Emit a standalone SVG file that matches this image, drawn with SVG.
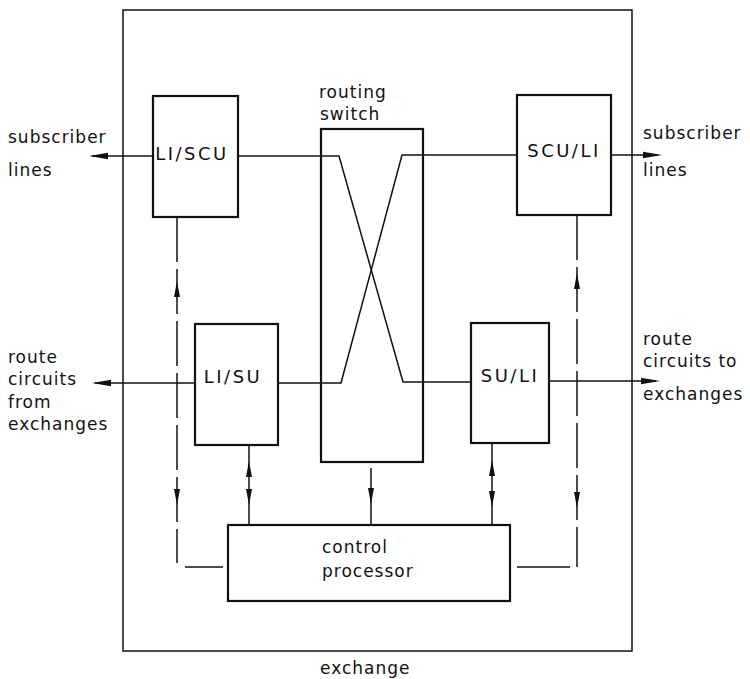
<svg xmlns="http://www.w3.org/2000/svg" width="750" height="679" viewBox="0 0 750 679">
<style>
  text { font-family: "DejaVu Sans", "Liberation Sans", sans-serif; font-size: 17px; letter-spacing: 1px; fill: #111; }
  .lbl { font-size: 18px; letter-spacing: 2.5px; text-anchor: middle; }
  .box { fill: none; stroke: #111; stroke-width: 2.2; }
  .frame { fill: none; stroke: #111; stroke-width: 1.5; }
  .ln { fill: none; stroke: #111; stroke-width: 1.5; }
  .dash { fill: none; stroke: #111; stroke-width: 1.5; stroke-dasharray: 45 7; }
  .ah { fill: #111; stroke: none; }
</style>
<defs>
  <path id="ah" d="M0,0 L-3,16 L3,16 Z"/>
  <path id="ahh" d="M0,0 L-3.2,19 L3.2,19 Z"/>
</defs>
<rect width="750" height="679" fill="#fff"/>

<g id="exchange">
  <rect class="frame" x="123" y="10" width="509" height="641"/>
  <text x="320" y="674">exchange</text>
</g>

<g id="li-scu">
  <rect class="box" x="153" y="96" width="85" height="121"/>
  <text class="lbl" x="192" y="160">LI/SCU</text>
</g>

<g id="scu-li">
  <rect class="box" x="517" y="95" width="94" height="120"/>
  <text class="lbl" x="564" y="157">SCU/LI</text>
</g>

<g id="li-su">
  <rect class="box" x="195" y="324" width="83" height="121"/>
  <text class="lbl" x="233" y="383">LI/SU</text>
</g>

<g id="su-li">
  <rect class="box" x="471" y="323" width="78" height="120"/>
  <text class="lbl" x="510" y="382">SU/LI</text>
</g>

<g id="routing-switch">
  <rect class="box" x="321" y="129" width="102" height="333"/>
  <text x="319" y="98">routing</text>
  <text x="320" y="120">switch</text>
</g>

<g id="control-processor">
  <rect class="box" x="228" y="525" width="282" height="76"/>
  <text x="322" y="553">control</text>
  <text x="322" y="577">processor</text>
</g>

<g id="side-labels">
  <text x="8" y="143">subscriber</text>
  <text x="8" y="176">lines</text>
  <text x="643" y="139">subscriber</text>
  <text x="643" y="176">lines</text>
  <text x="8" y="363">route</text>
  <text x="8" y="385">circuits</text>
  <text x="8" y="408">from</text>
  <text x="8" y="430">exchanges</text>
  <text x="643" y="345">route</text>
  <text x="643" y="367">circuits to</text>
  <text x="643" y="400">exchanges</text>
</g>

<g id="connectors">
  <line class="ln" x1="92" y1="156" x2="153" y2="156"/>
  <use href="#ahh" class="ah" transform="translate(89,156) rotate(-90)"/>
  <polyline class="ln" points="238,156 339,156 403,382 471,382"/>
  <polyline class="ln" points="278,383 341,383 402,155 517,155"/>
  <line class="ln" x1="611" y1="155" x2="658" y2="155"/>
  <use href="#ahh" class="ah" transform="translate(662,155) rotate(90)"/>
  <line class="ln" x1="549" y1="381" x2="656" y2="381"/>
  <use href="#ahh" class="ah" transform="translate(660,381) rotate(90)"/>
  <line class="ln" x1="95" y1="383" x2="195" y2="383"/>
  <use href="#ahh" class="ah" transform="translate(92,383) rotate(-90)"/>

  <line class="ln" x1="249" y1="445" x2="249" y2="525"/>
  <use href="#ah" class="ah" transform="translate(249,461)"/>
  <use href="#ah" class="ah" transform="translate(249,505) rotate(180)"/>

  <line class="ln" x1="371" y1="468" x2="371" y2="525"/>
  <use href="#ah" class="ah" transform="translate(371,504) rotate(180)"/>

  <line class="ln" x1="492" y1="443" x2="492" y2="525"/>
  <use href="#ah" class="ah" transform="translate(492,460)"/>
  <use href="#ah" class="ah" transform="translate(492,507) rotate(180)"/>

  <line class="dash" x1="177" y1="217" x2="177" y2="563"/>
  <line class="ln" x1="185" y1="567" x2="223" y2="567"/>
  <use href="#ah" class="ah" transform="translate(177,281)"/>
  <use href="#ah" class="ah" transform="translate(177,505) rotate(180)"/>

  <line class="dash" x1="577" y1="215" x2="577" y2="567"/>
  <line class="ln" x1="517" y1="567" x2="570" y2="567"/>
  <use href="#ah" class="ah" transform="translate(577,273)"/>
  <use href="#ah" class="ah" transform="translate(577,508) rotate(180)"/>
</g>
</svg>
